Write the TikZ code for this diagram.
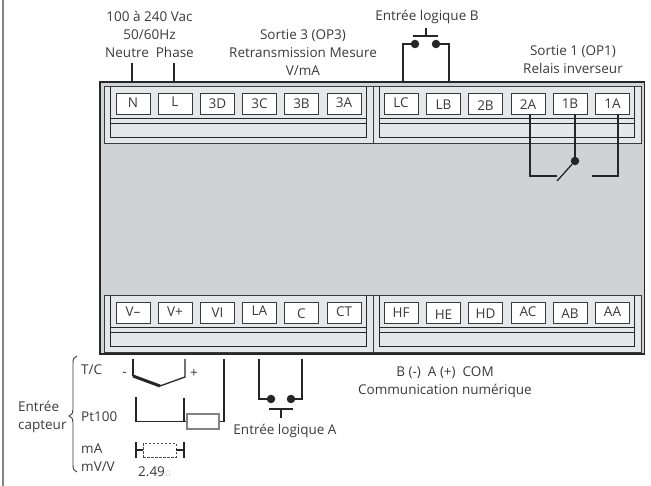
\documentclass[tikz,border=0pt]{standalone}
\usepackage{fontspec}
\setmainfont{Open Sans}
\usepackage{tikz}
\definecolor{bodygrey}{HTML}{D1D2D4}
\definecolor{blockgrey}{HTML}{E6E7E8}
\definecolor{inkgrey}{HTML}{3A3A3C}
\definecolor{railgrey}{HTML}{808285}
\tikzset{
terminal/.style={draw=inkgrey,fill=white,line width=.9pt,minimum width=34pt,minimum height=21pt,inner sep=0pt,text height=10pt,text depth=0pt,text=inkgrey,font=\fontsize{13.5}{13.5}\selectfont},
legend/.style={inner sep=0pt,align=center,text=inkgrey,font=\fontsize{13.5}{18}\selectfont},
wire/.style={draw=black!85,line width=1.3pt},
contact/.style={circle,fill=black!85,inner sep=0pt,minimum size=8.5pt}
}
\newcommand{\terminal}[4]{\node[terminal] (t#1) at (#2,#3) {\raisebox{#4pt}{#1}};}
\newcommand{\termblock}[3]{
\draw[draw=inkgrey,fill=blockgrey,line width=1pt] (#1,#3) rectangle (#2,#3+57);
\draw[draw=black!85,line width=.9pt] (#1+6.5,#3) -- (#1+6.5,#3+50) -- (#2-7,#3+50) -- (#2-7,#3);
\draw[draw=black!85,line width=.9pt] (#1+6.5,#3+31) -- (#2-7,#3+31) (#1+6.5,#3+36) -- (#2-7,#3+36);}
\begin{document}
\begin{tikzpicture}[x=1pt,y=-1pt]
\useasboundingbox (0,0) rectangle (651,486);
\draw[railgrey,line width=2pt] (3,0) -- (3,486);

\draw[draw=black!85,fill=bodygrey,line width=1.5pt] (100,82) rectangle (644.5,354);
\termblock{104}{373}{87}
\termblock{373}{641}{87}
\termblock{104}{373}{296}
\termblock{373}{641}{296}

\terminal{N}{133}{103.5}{1}
\terminal{L}{175}{103.5}{2}
\terminal{3D}{217.5}{103.5}{0}
\terminal{3C}{259.5}{103.5}{0}
\terminal{3B}{301.5}{103.5}{0}
\terminal{3A}{344}{103.5}{1}
\terminal{LC}{401}{103.5}{1}
\terminal{LB}{443.5}{103.5}{-1}
\terminal{2B}{485.5}{103.5}{-2}
\terminal{2A}{528}{103.5}{-1}
\terminal{1B}{570}{103.5}{0}
\terminal{1A}{612.5}{103.5}{0}

\terminal{V--}{133}{312.5}{1}
\terminal{V+}{175}{312.5}{1}
\terminal{VI}{217.5}{312.5}{0}
\terminal{LA}{259.5}{312.5}{2}
\terminal{C}{301.5}{312.5}{-1}
\terminal{CT}{344}{312.5}{1}
\terminal{HF}{401}{312.5}{0}
\terminal{HE}{443.5}{312.5}{-2}
\terminal{HD}{485.5}{312.5}{-1}
\terminal{AC}{528}{312.5}{1}
\terminal{AB}{570}{312.5}{-1}
\terminal{AA}{612.5}{312.5}{1}

\node[legend] (supply) at (149.5,34) {100 à 240 Vac\\50/60Hz\\Neutre\ \ Phase};
\node[legend] (op3) at (303,53) {Sortie 3 (OP3)\\Retransmission Mesure\\V/mA};
\node[legend] (inB) at (427,17) {Entrée logique B};
\node[legend] (op1) at (573,60) {Sortie 1 (OP1)\\Relais inverseur};
\node[legend,anchor=west] (tc) at (81,370) {T/C};
\node[legend] (minus) at (124.5,374) {-};
\node[legend] (plus) at (194,373) {+};
\node[legend,anchor=west,align=left] (sensor) at (18,417) {Entrée\\capteur};
\node[legend,anchor=west] (pt) at (81,417) {Pt100};
\node[legend,anchor=west] (ma) at (81,449) {mA};
\node[legend,anchor=west] (mv) at (81,467) {mV/V};
\node[legend,anchor=west] (shunt) at (138,472) {2.49{\color{black!15}\fontsize{8}{8}\selectfont Ω}};
\node[legend] (inA) at (285,431) {Entrée logique A};
\node[legend] (com) at (445,382) {B (-)\ \ A (+)\ \ COM\\Communication numérique};

% mains and output wiring
\coordinate (nIn) at (132,82);
\coordinate (lIn) at (174,82);
\draw[wire] (132,63) -- (nIn) (174,63) -- (lIn);

\node[contact] (b1) at (415,44) {};
\node[contact] (b2) at (436,44) {};
\draw[wire] (403,82) |- (b1);
\draw[wire] (449,82) |- (b2);
\draw[wire] (413,36) -- (438,36) (426,36) -- (426,28);

\node[contact] (pivot) at (575,161) {};
\coordinate (arm) at (557,181);
\draw[wire] ([xshift=2pt]t2A.south) |- (557,176);
\draw[wire] ([xshift=5pt]t1B.south) -- (pivot);
\draw[wire] ([xshift=5.5pt]t1A.south) |- (592,176);
\draw[wire] (pivot) -- (arm);

% sensor inputs
\draw[wire] (133,359) -- (133,376);
\draw[line width=3pt,black!85] (133,376) -- (160,386);
\draw[wire] (160,386) -- (185,377) -- (185,359);

\node[draw=railgrey,fill=white,line width=1.1pt,minimum width=32pt,minimum height=15pt,inner sep=0pt] (rtd) at (203,421.5) {};
\draw[wire] (136,397) |- (rtd.west);
\draw[wire] (184,398) -- (184,421);
\draw[wire] (224,359) |- (rtd.east);

\node[contact] (a1) at (271,399) {};
\node[contact] (a2) at (291,399) {};
\draw[wire] (259,359) |- (a1);
\draw[wire] (302,359) |- (a2);
\draw[wire] (269,409) -- (293,409) (281,409) -- (281,418);

\node[draw=black!70,dashed,dash pattern=on 2.5pt off 1.5pt,line width=.9pt,minimum width=33pt,minimum height=14pt,inner sep=0pt] (shuntbox) at (159.5,450) {};
\draw[wire] (136,442) -- (136,458) (184,442) -- (184,458);
\draw[wire] (136,450) -- (shuntbox.west) (shuntbox.east) -- (184,450);

\draw[draw=inkgrey,line width=.9pt] (77,356) .. controls (74,357) and (73,359) .. (73,363) -- (73,410) .. controls (73,413) and (72,415) .. (69,416) .. controls (72,417) and (73,419) .. (73,422) -- (73,465) .. controls (73,469) and (74,471) .. (77,472);
\end{tikzpicture}
\end{document}
